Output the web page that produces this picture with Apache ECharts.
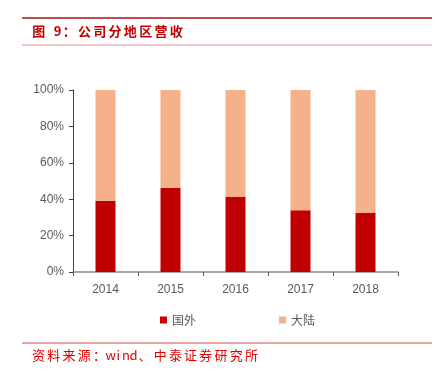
<!DOCTYPE html>
<html><head><meta charset="utf-8">
<script src="https://cdn.jsdelivr.net/npm/echarts@6/dist/echarts.min.js"></script>
<style>html,body{margin:0;padding:0;background:#fff}#c{width:441px;height:371px}</style>
</head><body><div id="c"></div>
<script>
var categories = ['2014','2015','2016','2017','2018'];
var overseas = [39.2, 46.3, 41.2, 33.9, 32.4];
var mainland = [60.8, 53.7, 58.8, 66.1, 67.6];
var yTicks = [0, 20, 40, 60, 80, 100];
var titleText = '图 9：公司分地区营收';
var sourceText = '资料来源：wind、中泰证券研究所';

// lay text out character by character with wide (SimSun-like) spacing
function spacedText(str, x0, yc, font, fill, full, half) {
  var els = [], x = x0;
  for (var i = 0; i < str.length; i++) {
    var ch = str[i];
    var isHalf = ch.charCodeAt(0) < 256;
    var adv = isHalf ? half : full;
    if (ch !== ' ') {
      els.push({type:'text', x: x + adv / 2, y: yc,
        style:{text:ch, fill:fill, font:font, align:'center', verticalAlign:'middle'}});
    }
    x += adv;
  }
  return els;
}

var graphics = [
  {type:'rect', shape:{x:22, y:17, width:410, height:2}, style:{fill:'#c0504d'}},
  {type:'rect', shape:{x:22, y:44.5, width:410, height:1}, style:{fill:'#d99594'}},
  {type:'rect', shape:{x:22, y:342.5, width:410, height:1}, style:{fill:'#d05050'}}
].concat(
  spacedText(titleText, 31, 31, 'bold 13px "Noto Sans CJK SC"', '#c00000', 15.3, 7.6),
  spacedText(sourceText, 31, 355.5, '13px "Noto Sans CJK SC"', '#e00000', 15.2, 7.6)
);

var chart = echarts.init(document.getElementById('c'), null, {renderer:'canvas'});
chart.setOption({
  animation:false,
  backgroundColor:'#fff',
  grid:{left:73, right:43, top:90, bottom:99},
  legend:{
    data:['国外','大陆'], top:309, left:155, itemGap:83,
    itemWidth:7, itemHeight:7, icon:'rect',
    textStyle:{color:'#595959', fontSize:12, fontFamily:'Noto Sans CJK SC'}
  },
  xAxis:{
    type:'category', data:categories,
    axisLine:{lineStyle:{color:'#898989', width:1.5}},
    axisTick:{show:true, lineStyle:{color:'#595959'}, length:4, inside:false},
    axisLabel:{color:'#595959', fontSize:12, margin:12, fontFamily:'Liberation Sans'}
  },
  yAxis:{
    type:'value', min:0, max:100, interval:20,
    axisLine:{show:true, lineStyle:{color:'#404040'}},
    axisTick:{show:true, lineStyle:{color:'#404040'}, length:4},
    splitLine:{show:false},
    axisLabel:{color:'#595959', fontSize:12, margin:9, formatter:function(v){return v+'%';}, fontFamily:'Liberation Sans'}
  },
  series:[
    {name:'国外', type:'bar', stack:'a', data:overseas, barWidth:20,
     itemStyle:{color:'#c00000'}},
    {name:'大陆', type:'bar', stack:'a', data:mainland, barWidth:20,
     itemStyle:{color:'#f4b18a'}}
  ],
  graphic:graphics
});
</script></body></html>
